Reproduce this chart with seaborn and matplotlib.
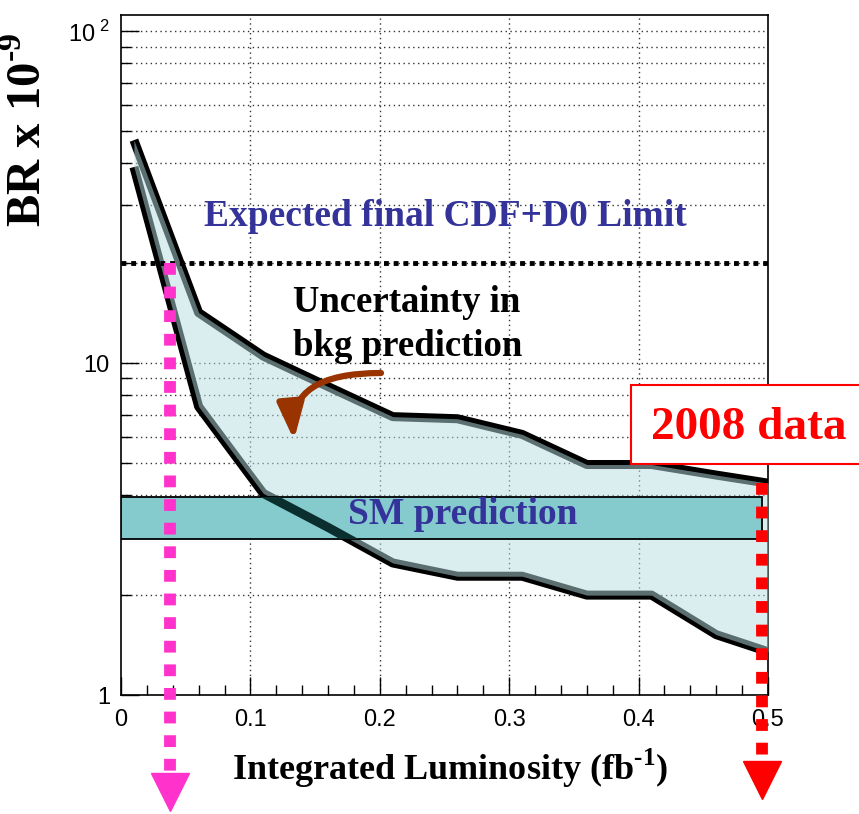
import numpy as np
import pandas as pd
import matplotlib
matplotlib.use("Agg")
import matplotlib.pyplot as plt
import seaborn as sns
from matplotlib.patches import Rectangle, FancyArrowPatch
from matplotlib.ticker import FixedLocator, NullFormatter, FixedFormatter

# Expected BR upper limit vs integrated luminosity: band edges
lumi = [0.01, 0.06, 0.11, 0.16, 0.21, 0.26, 0.31, 0.36, 0.41, 0.46, 0.50]
br_high = [47.0, 14.2, 10.5, 8.5, 6.9, 6.8, 6.1, 4.95, 4.95, 4.6, 4.35]
br_low = [39.0, 7.4, 4.05, 3.2, 2.5, 2.28, 2.28, 2.0, 2.0, 1.52, 1.35]

# SM prediction range and combined expected limit
sm_low, sm_high = 2.95, 3.95
sm_lumi_end = 0.495
cdf_d0_limit = 20.0

# Luminosity markers (arrows)
lumi_now = 0.038
lumi_2008 = 0.4955

x_ticks = [0, 0.1, 0.2, 0.3, 0.4, 0.5]
x_tick_labels = ["0", "0.1", "0.2", "0.3", "0.4", "0.5"]

W, H = 859, 814
sns.set_theme(style="white")
plt.rcParams["font.family"] = ["Liberation Sans", "DejaVu Sans"]
plt.rcParams["text.color"] = "black"
plt.rcParams["xtick.color"] = "black"
plt.rcParams["ytick.color"] = "black"
plt.rcParams["mathtext.fontset"] = "custom"
plt.rcParams["mathtext.rm"] = "Liberation Sans"
plt.rcParams["mathtext.bf"] = "Liberation Serif:bold"

fig = plt.figure(figsize=(W / 100, H / 100), dpi=100)
ax = fig.add_axes([121 / W, 1 - 695 / H, (768 - 121) / W, (695 - 15) / H])
ax.set_yscale("log")
ax.set_xlim(0, 0.5)
ax.set_ylim(1, 112)

def fx(px):
    return px / W

def fy(py):
    return 1 - py / H

# grid
for xv in [0.1, 0.2, 0.3, 0.4]:
    ax.axvline(xv, color="#333333", lw=1, ls=(0, (1, 2.5)), zorder=0.5)
y_grid = [2, 3, 4, 5, 6, 7, 8, 9, 10, 20, 30, 40, 50, 60, 70, 80, 90, 100]
for yv in y_grid:
    ax.axhline(yv, color="#333333", lw=1, ls=(0, (1, 2.5)), zorder=0.5)

# SM prediction box
sm_box = Rectangle((0, sm_low), sm_lumi_end, sm_high - sm_low,
                   facecolor="#85cbce", edgecolor="black", lw=1.3, zorder=4)
ax.add_patch(sm_box)

# band edges as lines
df = pd.DataFrame({
    "lumi": lumi + lumi,
    "br": br_high + br_low,
    "edge": ["high"] * len(lumi) + ["low"] * len(lumi),
})
sns.lineplot(data=df, x="lumi", y="br", hue="edge", units="edge",
             estimator=None, sort=False, palette=["black", "black"],
             lw=6.5, legend=False, ax=ax, zorder=2)
for ln in ax.lines[-2:]:
    ln.set_solid_capstyle("butt")

# translucent uncertainty band over the edges
ax.fill_between(lumi, br_low, br_high, color="#b7dde1", alpha=0.5,
                lw=0, zorder=3)

# edge lines visible through the SM box
for ys in (br_high, br_low):
    ln, = ax.plot(lumi, ys, color="#0b2e2e", lw=6.5, zorder=5,
                  solid_capstyle="butt")
    ln.set_clip_path(Rectangle((0, sm_low), sm_lumi_end, sm_high - sm_low,
                               transform=ax.transData))

# expected CDF+D0 limit
ax.plot([0, 0.5], [cdf_d0_limit, cdf_d0_limit], color="black", lw=3.5,
        ls=(0, (1, 1)), dash_capstyle="butt", zorder=6)

# luminosity arrows
def to_y(py):
    return 10 ** ((695 - py) / ((695 - 32) / 2))

ax.plot([lumi_now, lumi_now], [cdf_d0_limit, to_y(778)], color="#ff33cc",
        lw=8.5, ls=(0, (1, 1)), dash_capstyle="butt", clip_on=False, zorder=7)
ax.plot([lumi_now], [to_y(792)], marker="v", ms=28, color="#ff33cc",
        mec="#ff33cc", clip_on=False, zorder=7)
ax.plot([lumi_2008, lumi_2008], [br_high[-1], to_y(766)], color="#ff0000",
        lw=8.5, ls=(0, (1, 1)), dash_capstyle="butt", clip_on=False, zorder=7)
ax.plot([lumi_2008], [to_y(780)], marker="v", ms=28, color="#ff0000",
        mec="#ff0000", clip_on=False, zorder=7)

# ticks
ax.xaxis.set_major_locator(FixedLocator(x_ticks))
ax.xaxis.set_major_formatter(FixedFormatter(x_tick_labels))
ax.xaxis.set_minor_locator(FixedLocator(np.arange(0.02, 0.5, 0.02)))
ax.yaxis.set_major_locator(FixedLocator([1, 10, 100]))
ax.yaxis.set_major_formatter(FixedFormatter(["1", "10", r"$10^{\ 2}$"]))
ax.yaxis.set_minor_formatter(NullFormatter())
ax.tick_params(axis="both", which="major", direction="in", length=13, width=1,
               labelsize=17, colors="black", bottom=True, left=True, pad=8)
ax.tick_params(axis="both", which="minor", direction="in", length=7, width=1,
               bottom=True, left=True)
ax.tick_params(axis="x", which="major", pad=10)
for s in ax.spines.values():
    s.set_color("black")
    s.set_linewidth(1.2)
ax.set_xlabel("")
ax.set_ylabel("")

# labels
serif = "Liberation Serif"
fig.text(fx(450), fy(768), "Integrated Luminosity (fb$^{\\mathbf{\u20101}}$)",
         family=serif, weight="bold", fontsize=26, ha="center", va="center")
fig.text(fx(28), fy(130), "BR x 10$^{\\mathbf{\u20109}}$", family=serif,
         weight="bold", fontsize=35, rotation=90, ha="center", va="center")

fig.text(fx(445), fy(217), "Expected final CDF+D0 Limit", family=serif,
         weight="bold", fontsize=27, color="#333399", ha="center", va="center")
fig.text(fx(293), fy(302), "Uncertainty in", family=serif, weight="bold",
         fontsize=26.5, color="black", ha="left", va="center")
fig.text(fx(293), fy(347), "bkg prediction", family=serif, weight="bold",
         fontsize=26.5, color="black", ha="left", va="center")
fig.text(fx(463), fy(515), "SM prediction", family=serif, weight="bold",
         fontsize=27, color="#333399", ha="center", va="center", zorder=10)

# 2008 data box
fig.patches.append(Rectangle((fx(631), fy(464)), fx(240), (464 - 385) / H,
                             transform=fig.transFigure, facecolor="white",
                             edgecolor="#ff0000", lw=1.5, zorder=8))
fig.text(fx(749), fy(428), "2008 data", family=serif, weight="bold",
         fontsize=34, color="#ff0000", ha="center", va="center", zorder=9)

# curved arrow pointing into the band
arr = FancyArrowPatch((fx(381), fy(373)), (fx(294), fy(440)),
                      transform=fig.transFigure,
                      connectionstyle="angle3,angleA=0,angleB=95",
                      arrowstyle="-|>,head_length=1.1,head_width=0.4",
                      mutation_scale=20, shrinkA=0, shrinkB=0,
                      color="#993300", lw=4.5, zorder=9)
fig.patches.append(arr)

fig.savefig("out.png", dpi=100)
